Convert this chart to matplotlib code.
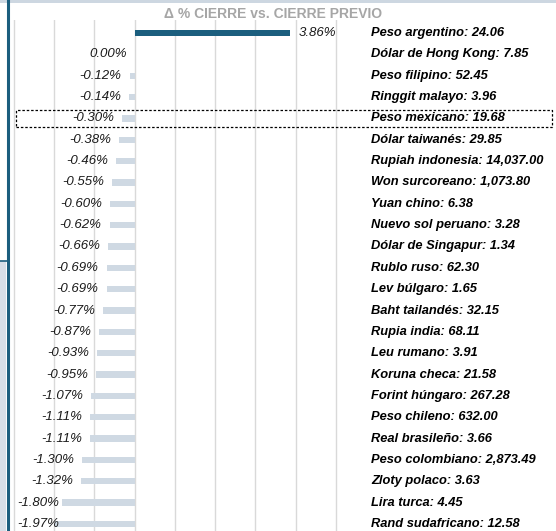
import matplotlib.pyplot as plt
import matplotlib.transforms as mtransforms
from matplotlib.patches import Rectangle
from matplotlib.lines import Line2D

plt.rcParams['font.family'] = ['Liberation Sans', 'DejaVu Sans']

# Monedas, tipo de cambio y variación % vs. cierre previo
monedas = ['Peso argentino', 'Dólar de Hong Kong', 'Peso filipino', 'Ringgit malayo',
           'Peso mexicano', 'Dólar taiwanés', 'Rupiah indonesia', 'Won surcoreano',
           'Yuan chino', 'Nuevo sol peruano', 'Dólar de Singapur', 'Rublo ruso',
           'Lev búlgaro', 'Baht tailandés', 'Rupia india', 'Leu rumano',
           'Koruna checa', 'Forint húngaro', 'Peso chileno', 'Real brasileño',
           'Peso colombiano', 'Zloty polaco', 'Lira turca', 'Rand sudafricano']
cierre = ['24.06', '7.85', '52.45', '3.96', '19.68', '29.85', '14,037.00', '1,073.80',
          '6.38', '3.28', '1.34', '62.30', '1.65', '32.15', '68.11', '3.91',
          '21.58', '267.28', '632.00', '3.66', '2,873.49', '3.63', '4.45', '12.58']
variacion = [3.86, 0.00, -0.12, -0.14, -0.30, -0.38, -0.46, -0.55, -0.60, -0.62,
             -0.66, -0.69, -0.69, -0.77, -0.87, -0.93, -0.95, -1.07, -1.11, -1.11,
             -1.30, -1.32, -1.80, -1.97]
destacada = 'Peso mexicano'

W, H = 556, 531
fig = plt.figure(figsize=(W / 100, H / 100), dpi=100)

# ejes: 0% en x=134.5px, 40.3 px por punto; filas de y=33px a y=524px
ax = fig.add_axes([9.6 / W, 0, (340 - 9.6) / W, 1 - 20 / H])
ax.set_xlim(-3.1, 5.1)
ax.set_ylim(23.33, -0.61)
for s in ax.spines.values():
    s.set_visible(False)
ax.set_xticks(range(-3, 6))
ax.set_yticks([])
ax.tick_params(axis='x', length=0, labelbottom=False)
ax.grid(axis='x', color='#d9d9d9', lw=1)
ax.set_axisbelow(True)

pos = list(range(len(monedas)))
colores = ['#1b5e7e' if v > 0 else '#cfd9e3' for v in variacion]
ax.barh(pos, variacion, height=0.3, color=colores, zorder=2)

for i, (m, c, v) in enumerate(zip(monedas, cierre, variacion)):
    txt = f'{v:.2f}%'
    if v > 0:
        ax.text(v + 0.22, i, txt, ha='left', va='center', fontsize=9.5,
                style='italic', color='#1a1a1a')
    elif v - 0.2 - 1.07 < -2.9:
        ax.text(-2.9, i, txt, ha='left', va='center', fontsize=9.5,
                style='italic', color='#1a1a1a')
    else:
        ax.text(v - 0.2, i, txt, ha='right', va='center', fontsize=9.5,
                style='italic', color='#1a1a1a')
    ax.text(5.88, i, f'{m}: {c}', ha='left', va='center', fontsize=9.3,
            style='italic', weight='bold', color='black', clip_on=False)

# recuadro punteado en la moneda destacada
k = monedas.index(destacada)
tr = mtransforms.blended_transform_factory(fig.transFigure, ax.transData)
fig.add_artist(Rectangle((16 / W, k + 0.42), (552 - 16) / W, -0.82, transform=tr,
                         fill=False, ls=(0, (2, 1.5)), lw=0.9, ec='black'))

fig.text(273.5 / W, 1 - 14 / H, 'Δ % CIERRE vs. CIERRE PREVIO', ha='center', va='center',
         fontsize=10, weight='bold', color='#a6a6a6')

# elementos de la lámina recortada
fig.add_artist(Rectangle((0, 1 - 3 / H), 1, 3 / H, transform=fig.transFigure,
                         color='#cdd7e1', lw=0))
fig.add_artist(Rectangle((0, 0), 6 / W, 1 - 261 / H, transform=fig.transFigure,
                         color='#d6dee7', lw=0))
fig.add_artist(Line2D([0, 7 / W], [1 - 261 / H] * 2, transform=fig.transFigure,
                      color='#1b5e7e', lw=1.2))
fig.add_artist(Line2D([7.5 / W] * 2, [0, 1], transform=fig.transFigure,
                      color='#1b5e7e', lw=2.2))

fig.savefig('out.png', dpi=100)
